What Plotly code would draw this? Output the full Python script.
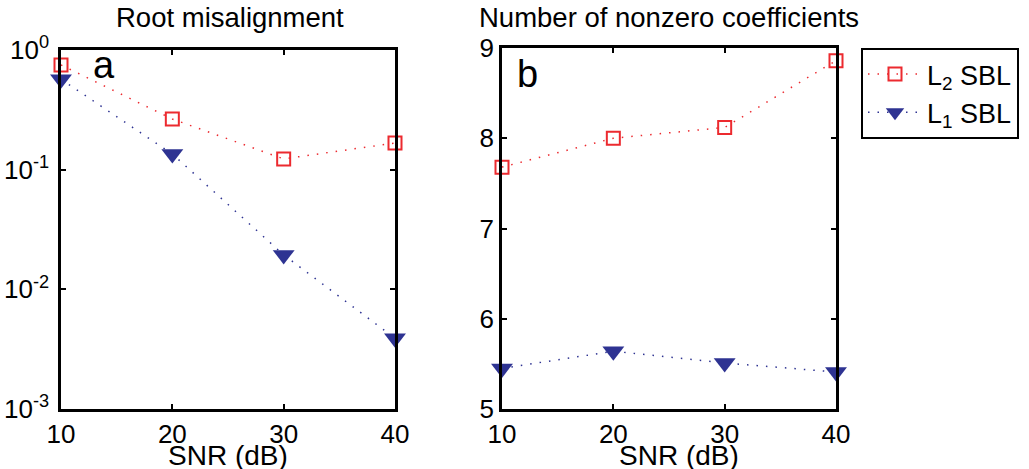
import plotly.graph_objects as go

snr = [10, 20, 30, 40]

# Root misalignment (log scale)
mis_l2 = [0.75, 0.265, 0.123, 0.167]
mis_l1 = [0.57, 0.135, 0.0194, 0.0039]

# Number of nonzero coefficients
nnz_l2 = [7.68, 8.0, 8.12, 8.86]
nnz_l1 = [5.45, 5.64, 5.51, 5.41]

log_ticks = [1e-3, 1e-2, 1e-1, 1]
log_labels = ["10<sup>-3</sup>", "10<sup>-2</sup>", "10<sup>-1</sup>", "10<sup>0</sup>"]

RED = "#ec2a2f"
BLUE = "#2e3392"
FONT = "Liberation Sans, Arial, sans-serif"
DOTS = "1.5px,8px"

fig = go.Figure()

def add_pair(xa, ya, y2, y1, show):
    fig.add_trace(go.Scatter(
        x=snr, y=y2, xaxis=xa, yaxis=ya, name="L<sub>2</sub> SBL",
        mode="lines+markers", showlegend=show, cliponaxis=False,
        line=dict(color=RED, width=1.5, dash=DOTS),
        marker=dict(symbol="square-open", size=13, color=RED, line=dict(width=2, color=RED)),
    ))
    fig.add_trace(go.Scatter(
        x=snr, y=y1, xaxis=xa, yaxis=ya, name="L<sub>1</sub> SBL",
        mode="lines+markers", showlegend=show, cliponaxis=False,
        line=dict(color=BLUE, width=1.5, dash=DOTS),
        marker=dict(symbol="triangle-down", size=19, color=BLUE),
    ))

add_pair("x", "y", mis_l2, mis_l1, True)
add_pair("x2", "y2", nnz_l2, nnz_l1, False)

W, H = 1029, 469
def px(v): return v / W
def py(v): return 1 - v / H

axis_common = dict(
    showline=True, linecolor="black", linewidth=2.5, mirror="ticks",
    ticks="inside", ticklen=5, tickwidth=2, tickcolor="black",
    showgrid=False, zeroline=False, automargin=False,
    tickfont=dict(family=FONT, size=26, color="black"),
)

fig.update_layout(
    width=W, height=H, autosize=False,
    margin=dict(l=0, r=0, t=0, b=0, pad=0),
    paper_bgcolor="white", plot_bgcolor="white",
    font=dict(family=FONT, color="black"),
    xaxis=dict(domain=[px(61), px(395)], anchor="y", range=[10, 40],
               tickvals=snr, **axis_common),
    yaxis=dict(domain=[py(409), py(50)], anchor="x", type="log", range=[-3, 0],
               tickvals=log_ticks, ticktext=log_labels, ticklabelstandoff=4,
               **axis_common),
    xaxis2=dict(domain=[px(502), px(836)], anchor="y2", range=[10, 40],
                tickvals=snr, **axis_common),
    yaxis2=dict(domain=[py(409), py(48)], anchor="x2", range=[5, 9],
                tickvals=[5, 6, 7, 8, 9], **axis_common),
    legend=dict(
        x=px(861), y=py(48), xanchor="left", yanchor="top",
        bordercolor="black", borderwidth=2, bgcolor="white",
        font=dict(family=FONT, size=27, color="black"),
        tracegroupgap=0, itemwidth=54,
    ),
    showlegend=True,
)

def label(text, x, y, size):
    return dict(text=text, x=px(x), y=py(y), xref="paper", yref="paper",
                xanchor="center", yanchor="middle", showarrow=False,
                font=dict(size=size, family=FONT, color="black"))

annotations = [
    label("Root misalignment", 230, 17, 27.5),
    label("Number of nonzero coefficients", 669, 17, 27.5),
    label("SNR (dB)", 228, 455, 28),
    label("SNR (dB)", 679, 455, 28),
    label("a", 104, 65, 38),
    label("b", 527, 74, 38),
]
fig.update_layout(annotations=annotations)

fig.write_html("out.html")
